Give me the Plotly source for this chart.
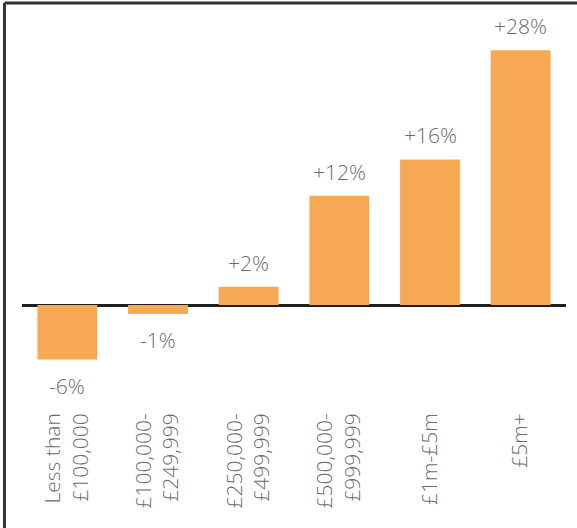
import plotly.graph_objects as go

# Price bands and the percentage change for each
bands = [
    "Less than<br>£100,000",
    "£100,000-<br>£249,999",
    "£250,000-<br>£499,999",
    "£500,000-<br>£999,999",
    "£1m-£5m",
    "£5m+",
]
change_pct = [-6, -1, 2, 12, 16, 28]
value_labels = [f"{v:+d}%" for v in change_pct]

BAR_COLOR = "#F8A953"
TEXT_COLOR = "#6b6b6b"
FONT = "Open Sans, Lato, Roboto, sans-serif"

fig = go.Figure(
    go.Bar(
        x=bands,
        y=change_pct,
        marker=dict(color=BAR_COLOR, line=dict(width=0)),
        hoverinfo="skip",
    )
)

# Value labels above positive bars and below negative ones
for band, v, lab in zip(bands, change_pct, value_labels):
    fig.add_annotation(
        x=band,
        y=v,
        text=lab,
        showarrow=False,
        yanchor="bottom" if v >= 0 else "top",
        yshift=8 if v >= 0 else -10,
        font=dict(family=FONT, size=21, color=TEXT_COLOR, weight=300),
    )

# Frame lines along the left and top edges of the page
frame = dict(color="#333333", width=3)
fig.add_shape(type="line", xref="paper", yref="paper",
              x0=-0.0322, x1=-0.0322, y0=1.0447, y1=-0.35, line=frame)
fig.add_shape(type="line", xref="paper", yref="paper",
              x0=-0.0322, x1=1.03, y0=1.0447, y1=1.0447, line=frame)

fig.update_layout(
    width=577,
    height=528,
    margin=dict(l=22, r=11, t=20, b=128),
    paper_bgcolor="white",
    plot_bgcolor="white",
    bargap=0.34,
    showlegend=False,
    font=dict(family=FONT, color=TEXT_COLOR),
    xaxis=dict(
        tickangle=-90,
        tickfont=dict(family=FONT, size=21, color=TEXT_COLOR, weight=300),
        ticklabelstandoff=8,
        showgrid=False,
        showline=False,
        ticks="",
        fixedrange=True,
    ),
    yaxis=dict(
        range=[-10.44, 31.32],
        showgrid=False,
        showticklabels=False,
        zeroline=True,
        zerolinecolor="#1e1e1e",
        zerolinewidth=3,
        fixedrange=True,
    ),
)

fig.write_html("out.html", config={"displayModeBar": False})
